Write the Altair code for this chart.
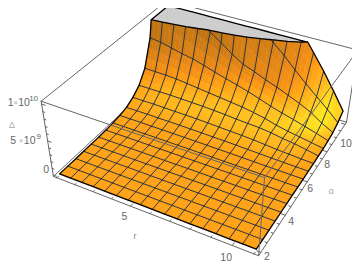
import numpy as np
import altair as alt

# Surface heights, in units of 1e9, on the mesh lines; one row per alpha line (2 -> 10), one entry per r line (1 -> 11)
D00 = [0.0]*17
D01 = [0.01]*16+[0.0]
D02 = [0.01]*16+[0.0]
D03 = [0.02]*15+[0.01,0.0]
D04 = [0.03]*14+[0.02,0.01,0.0]
D05 = [0.04,0.04,0.04,0.04,0.04,0.03,0.03,0.03,0.03,0.03,0.02,0.02,0.02,0.01,0.01,0.01,0.0]
D06 = [0.08,0.08,0.08,0.08,0.07,0.07,0.06,0.06,0.05,0.05,0.04,0.04,0.03,0.02,0.02,0.01,0.0]
D07 = [0.17,0.17,0.16,0.16,0.15,0.14,0.13,0.12,0.11,0.10,0.08,0.07,0.06,0.04,0.03,0.01,0.0]
D08 = [0.33,0.33,0.33,0.30,0.30,0.29,0.27,0.25,0.23,0.20,0.18,0.15,0.12,0.08,0.05,0.02,0.0]
D09 = [0.6,0.6,0.6,0.57,0.57,0.54,0.51,0.48,0.42,0.39,0.33,0.27,0.21,0.15,0.09,0.05,0.01]
D10 = [1.2,1.2,1.2,1.16,1.12,1.09,1.05,0.98,0.9,0.82,0.75,0.64,0.49,0.34,0.22,0.11,0.02]
D11 = [2.15,2.15,2.15,2.15,2.1,2.05,2.0,1.9,1.8,1.65,1.55,1.45,1.25,0.95,0.72,0.4,0.05]
D12 = [3.9,3.85,3.8,3.7,3.5,3.3,3.1,2.9,2.7,2.5,2.2,1.85,1.35,1.0,0.7,0.4,0.08]
D13 = [7.6,7.4,7.0,6.6,6.3,5.8,5.3,4.8,4.35,3.85,3.3,2.7,2.2,1.75,1.25,0.75,0.2]
D14 = [16,14.5,13,12,10.8,9.8,8.7,7.5,6.5,5.9,5.2,4.6,3.9,3.2,2.4,1.3,0.4]
D15 = [45,40,36,32,28,24,20,17,14,11.5,9.7,8.3,6.7,5.2,3.8,2.4,0.9]
D16 = [60,55,50,45,40,35,30,26,22,18,15,13,11,8.8,6.6,4.2,1.7]
DELTA = np.array([D00,D01,D02,D03,D04,D05,D06,D07,D08,D09,D10,D11,D12,D13,D14,D15,D16], float)

# Shading tone of the surface at each mesh crossing (0 brown, 0.6 orange, 1 yellow)
FLAT = [0.6]*17
T09 = [0.62,0.64,0.66,0.66,0.66,0.66,0.66,0.66,0.66,0.66,0.66,0.66,0.66,0.66,0.64,0.62,0.6]
T10 = [0.65,0.68,0.7,0.72,0.72,0.72,0.72,0.72,0.72,0.72,0.72,0.72,0.72,0.7,0.68,0.65,0.6]
T11 = [0.62,0.68,0.72,0.75,0.75,0.78,0.78,0.8,0.8,0.8,0.8,0.8,0.78,0.78,0.75,0.7,0.62]
T12 = [0.45,0.5,0.55,0.6,0.62,0.65,0.68,0.72,0.75,0.78,0.8,0.8,0.85,0.85,0.82,0.75,0.65]
T13 = [0.12,0.18,0.25,0.32,0.38,0.42,0.48,0.55,0.6,0.66,0.72,0.76,0.82,0.9,0.95,0.9,0.7]
T14 = [0.05,0.05,0.05,0.05,0.05,0.08,0.14,0.25,0.32,0.4,0.42,0.5,0.6,0.72,0.9,1.0,0.8]
T15 = [0.1,0.1,0.1,0.1,0.1,0.1,0.1,0.12,0.15,0.15,0.25,0.35,0.45,0.6,0.8,1.0,0.85]
T16 = [0.2,0.2,0.2,0.2,0.2,0.2,0.2,0.2,0.2,0.2,0.2,0.25,0.35,0.5,0.68,0.9,0.85]
TONE = np.array([FLAT]*9+[T09,T10,T11,T12,T13,T14,T15,T16], float)
TONE_STOPS = [0.0,0.3,0.5,0.6,0.8,1.0]
TONE_R = [173,219,246,255,255,255]
TONE_G = [106,130,144,161,192,235]
TONE_B = [16,22,21,20,30,30]

R_TICKS = [1,2,3,4,5,6,7,8,9,10,11]
R_MAJOR = [5,10]
A_TICKS = [2,2.5,3,3.5,4,4.5,5,5.5,6,6.5,7,7.5,8,8.5,9,9.5,10]
A_MAJOR = [2,4,6,8,10]
Z_TICKS = [0,1,2,3,4,5,6,7,8,9,10]
Z_MAJOR = [0,5,10]

# camera calibrated on the corners of the bounding box (u, v, w) -> page pixel
BOX = [(0,0,0),(1,0,0),(1,1,0),(0,1,0),(0,0,1),(1,0,1),(1,1,1),(0,1,1)]
BOX_PX = [(52.7,175.7),(260,255.7),(346,122),(169,70),(41.7,101.7),(263.3,178),(358.3,50),(167,0)]
rows, rhs = [], []
for (X,Y,Z),(x,y) in zip(BOX,BOX_PX):
    rows.append([X,Y,Z,1,0,0,0,0,-x*X,-x*Y,-x*Z]); rhs.append(x)
    rows.append([0,0,0,0,X,Y,Z,1,-y*X,-y*Y,-y*Z]); rhs.append(y)
sol = np.linalg.lstsq(np.array(rows,float),np.array(rhs,float),rcond=None)[0]
P = np.append(sol,1.0).reshape(3,4)

def cam(u,v,w):
    h = P @ np.array([u,v,w,1.0])
    return [round(float(h[0]/h[2])-8,2), round(float(h[1]/h[2])-8,2)]

ZCLIP = 10.0
def U(k): return 0.02+0.96*k/16
def V(j): return 0.02+0.96*j/16
def Wz(d): return 0.02+0.945*d/10
def pt(p): return cam(U(p[0]),V(p[1]),Wz(p[2]))

def clip_poly(poly, keep_below=True):
    out=[]
    n=len(poly)
    for i in range(n):
        a,b=poly[i],poly[(i+1)%n]
        ina=(a[2]<=ZCLIP) if keep_below else (a[2]>=ZCLIP)
        inb=(b[2]<=ZCLIP) if keep_below else (b[2]>=ZCLIP)
        if ina: out.append(a)
        if ina!=inb:
            t=(ZCLIP-a[2])/(b[2]-a[2])
            out.append((a[0]+t*(b[0]-a[0]),a[1]+t*(b[1]-a[1]),ZCLIP)+tuple(a[3+i2]+t*(b[3+i2]-a[3+i2]) for i2 in range(len(a)-3)))
    return out

def colour(t):
    r=np.interp(t,TONE_STOPS,TONE_R); g=np.interp(t,TONE_STOPS,TONE_G); b=np.interp(t,TONE_STOPS,TONE_B)
    return "#%02x%02x%02x"%(int(r),int(g),int(b))

SUB=3
polys=[]; caps=[]
for j in range(15,-1,-1):
    for k in range(16):
        for sj in range(SUB-1,-1,-1):
            for sk in range(SUB):
                corners=[]
                for (a,b) in [(0,0),(1,0),(1,1),(0,1)]:
                    s=(sk+a)/SUB; t=(sj+b)/SUB
                    d=(1-s)*(1-t)*DELTA[j,k]+s*(1-t)*DELTA[j,k+1]+s*t*DELTA[j+1,k+1]+(1-s)*t*DELTA[j+1,k]
                    c=(1-s)*(1-t)*TONE[j,k]+s*(1-t)*TONE[j,k+1]+s*t*TONE[j+1,k+1]+(1-s)*t*TONE[j+1,k]
                    corners.append((k+s,j+t,d,c))
                low=clip_poly(corners,True)
                if len(low)>=3:
                    tone=sum(q[3] for q in low)/len(low)
                    polys.append({"type":"Feature","properties":{"c":colour(tone)},
                        "geometry":{"type":"Polygon","coordinates":[[pt(q) for q in low]+[pt(low[0])]]}})
                high=clip_poly(corners,False)
                if len(high)>=3:
                    caps.append({"type":"Feature","properties":{"c":"#cccccc"},
                        "geometry":{"type":"Polygon","coordinates":[[pt((q[0],q[1],ZCLIP)) for q in high]+[pt((high[0][0],high[0][1],ZCLIP))]]}})

def split(a,b):
    """parts of a segment under the clip, and the part over it, laid on the clip plane"""
    if a[2]<=ZCLIP and b[2]<=ZCLIP: return [(a,b)],[]
    if a[2]>=ZCLIP and b[2]>=ZCLIP: return [],[((a[0],a[1],ZCLIP),(b[0],b[1],ZCLIP))]
    t=(ZCLIP-a[2])/(b[2]-a[2])
    m=(a[0]+t*(b[0]-a[0]),a[1]+t*(b[1]-a[1]),ZCLIP)
    if a[2]<ZCLIP: return [(a,m)],[(m,(b[0],b[1],ZCLIP))]
    return [(m,b)],[((a[0],a[1],ZCLIP),m)]

mesh=[]; edge=[]
for j in range(17):
    for k in range(16):
        lo,hi=split((k,j,DELTA[j,k]),(k+1,j,DELTA[j,k+1]))
        (edge if j in (0,16) else mesh).extend(lo)
        if j in (0,16): edge.extend(hi)
for k in range(17):
    for j in range(16):
        lo,hi=split((k,j,DELTA[j,k]),(k,j+1,DELTA[j+1,k]))
        (edge if k in (0,16) else mesh).extend(lo)
        if k in (0,16): edge.extend(hi)
# the line where the surface meets the clip plane
for j in range(16):
    for k in range(16):
        low=clip_poly([(k,j,DELTA[j,k]),(k+1,j,DELTA[j,k+1]),(k+1,j+1,DELTA[j+1,k+1]),(k,j+1,DELTA[j+1,k])],True)
        on=[q for q in low if abs(q[2]-ZCLIP)<1e-9]
        if len(on)>=2: edge.append((on[0],on[-1]))

def multi(segs): return [[pt(a),pt(b)] for a,b in segs]
def box_seg(a,b): return [cam(*a),cam(*b)]

A,B,C_,D,E,F,G,H=BOX
back_lines=[box_seg(D,H),box_seg(A,D),box_seg(D,C_)]
front_lines=[box_seg(E,H),box_seg(H,G),box_seg(E,A),box_seg(G,C_),box_seg(A,B),box_seg(B,C_),box_seg(E,F),box_seg(F,G),box_seg(F,B)]
ticks=[]
for r in R_TICKS:
    u=0.02+0.96*(r-1)/10; L=0.018 if r in R_MAJOR else 0.01
    ticks.append(box_seg((u,0,0),(u,L,0)))
for a in A_TICKS:
    v=0.02+0.96*(a-2)/8; L=0.018 if a in A_MAJOR else 0.01
    ticks.append(box_seg((1,v,0),(1-L,v,0)))
for z in Z_TICKS:
    w=Wz(z); L=0.018 if z in Z_MAJOR else 0.01
    ticks.append(box_seg((0,0,w),(L,0,w)))

labels=[]
def lab(t,x,y,s,col): labels.append({"t":t,"x":x,"y":y,"s":s,"c":col})
GR="#666666"; LG="#aaaaaa"
for r,t,dx,dy in [(5,"5",-6,11),(10,"10",-6,13)]:
    x,y=cam(0.02+0.96*(r-1)/10,0,0); lab(t,x+dx,y+dy,10.5,GR)
for a,dx,dy in [(2,6,5),(4,6,7),(6,3,7),(8,0,13),(10,1,20)]:
    x,y=cam(1,0.02+0.96*(a-2)/8,0); lab(str(a),x+dx,y+dy,10.5,GR)
x,y=cam(0,0,Wz(0)); lab("0",x-7,y-5,10.5,GR)
x,y=cam(0,0,Wz(5))
lab("5",x-34.5,y,10.5,GR); lab("\u00d7",x-26.5,y,7.5,LG); lab("10",x-18,y,10.5,GR); lab("9",x-9,y-4,8,GR)
x,y=cam(0,0,Wz(10)); y-=1
lab("1",x-31,y,10.5,GR); lab("\u00d7",x-26,y,7.5,LG); lab("10",x-17.5,y,10.5,GR); lab("10",x-8,y-4,8,GR)
lab("r",127,228,9,"#888888")
lab("\u03b1",323,183,9,LG)
lab("\u0394",4,117,9,LG)

PROJ=dict(type="identity",scale=1,translate=[0,0])
def line_layer(segs,col,width):
    f=[{"type":"Feature","properties":{},"geometry":{"type":"MultiLineString","coordinates":segs}}]
    return alt.Chart(alt.Data(values=f)).mark_geoshape(filled=False,stroke=col,strokeWidth=width,strokeCap="round").project(**PROJ)
def poly_layer(f):
    return alt.Chart(alt.Data(values=f)).mark_geoshape(strokeWidth=0.5).encode(
        fill=alt.Fill("properties.c:N",scale=None),stroke=alt.Stroke("properties.c:N",scale=None)).project(**PROJ)

text=alt.Chart(alt.Data(values=labels)).mark_text(font="Liberation Sans",baseline="middle",align="center").encode(
    longitude="x:Q",latitude="y:Q",text="t:N",size=alt.Size("s:Q",scale=None),color=alt.Color("c:N",scale=None)).project(**PROJ)

chart=alt.layer(
    line_layer(back_lines,"#666666",1),
    poly_layer(caps),
    poly_layer(polys),
    line_layer(multi(mesh),"#2d3540",1.0),
    line_layer(multi(edge),"#000000",1.3),
    line_layer(front_lines,"#666666",1),
    line_layer(ticks,"#666666",1),
    text,
).properties(width=344,height=258,padding=0,autosize="none",background="white").configure_view(strokeWidth=0)
chart.save("out.html",embed_options={"renderer":"svg","actions":False})
